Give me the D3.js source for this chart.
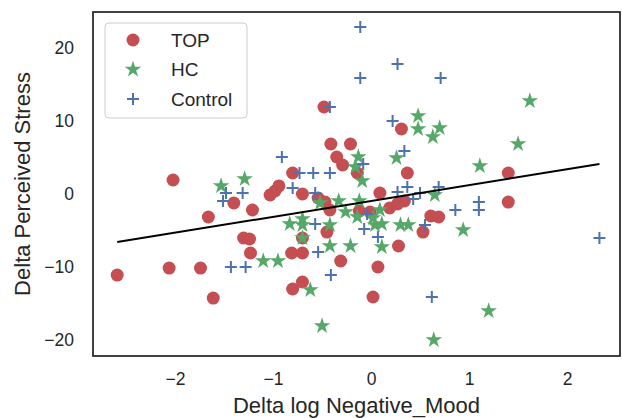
<!DOCTYPE html>
<html>
<head>
<meta charset="utf-8">
<script src="https://cdn.jsdelivr.net/npm/d3@7"></script>
<style>
  body { margin: 0; background: #fff; }
  text { font-family: "Liberation Sans", Arial, sans-serif; fill: #262626; }
</style>
</head>
<body>
<svg id="chart" width="622" height="418"></svg>
<script>
// values
const topX = [-2.02,-1.40,-1.21,-1.66,-1.03,-1.30,-1.24,-1.23,-2.59,-2.06,-1.74,-1.61,-0.80,-0.98,-0.94,-0.70,-0.54,-0.47,-0.42,-0.48,-0.41,-0.21,-0.35,-0.29,-0.14,0.31,0.37,0.09,-0.12,-0.01,0.19,0.27,0.34,-0.45,-0.70,-0.81,-0.70,-0.31,0.07,-0.80,-0.70,0.02,0.28,0.53,0.61,0.69,1.40,1.40];
const topY = [1.92,-1.23,-2.19,-3.15,-0.14,-6.03,-6.16,-8.08,-11.10,-10.14,-10.14,-14.25,2.88,0.41,1.10,0.00,-0.55,-1.10,-2.19,11.92,6.85,6.85,5.07,3.97,2.88,8.90,2.88,0.14,-2.33,-2.47,-1.92,-1.37,-0.96,-5.21,-6.03,-8.08,-8.08,-9.18,-10.00,-13.01,-12.05,-14.11,-7.12,-5.21,-3.01,-3.15,-1.10,2.88];

const hcX = [-1.53,-1.29,-1.10,-0.95,-0.52,-0.33,-0.12,-0.83,-0.70,-0.70,-0.70,-0.42,-0.26,-0.14,0.02,0.09,0.04,0.11,0.30,0.38,-0.42,-0.21,0.11,-0.62,-0.50,0.65,0.94,1.20,0.64,1.50,1.11,1.62,0.70,0.63,0.48,0.48,0.26,-0.13,-0.16,-0.09];
const hcY = [1.10,2.05,-9.18,-9.18,-1.23,-0.96,-0.96,-4.11,-3.42,-4.25,-6.03,-4.25,-2.47,-3.15,-3.29,-2.19,-4.25,-4.11,-4.25,-4.25,-7.12,-7.12,-7.26,-13.15,-18.08,-0.14,-4.93,-16.03,-20.00,6.85,3.84,12.74,9.04,7.81,10.68,8.90,4.93,5.07,3.70,1.78];

const ctrlX = [-0.11,0.27,-0.11,0.71,-0.42,0.22,0.34,-0.08,-0.91,-0.73,-0.59,-0.42,-1.48,-1.31,-1.51,-0.80,-0.57,-0.57,-0.04,-0.07,0.07,0.27,0.37,0.43,0.50,0.55,-0.54,-0.41,-1.43,-1.28,0.62,0.69,0.86,1.10,1.10,2.33];
const ctrlY = [22.88,17.81,15.89,15.89,11.92,10.00,5.89,4.11,5.07,2.88,2.88,2.88,0.14,0.14,-0.96,0.82,0.14,-4.11,-2.74,-4.79,-5.89,0.27,0.96,-0.68,0.14,-4.25,-7.95,-11.10,-10.00,-10.00,-14.11,0.96,-2.19,-1.10,-2.19,-6.03];

const fitX = [-2.59, 2.33];
const fitY = [-6.58, 4.11];

const xTicks = [-2, -1, 0, 1, 2];
const yTicks = [-20, -10, 0, 10, 20];
const groups = ["TOP", "HC", "Control"];
const colors = {TOP: "#c44e52", HC: "#55a868", Control: "#4c72b0"};

const svg = d3.select("#chart");
const mLeft = 93, mRight = 620, mTop = 12, mBottom = 356;

const x = d3.scaleLinear().domain([-2.837, 2.54]).range([mLeft, mRight]);
const y = d3.scaleLinear().domain([-22.19, 24.93]).range([mBottom, mTop]);

const starPath = d3.symbol().type(d3.symbolStar).size(85)();
const plusPath = "M-6,0H6M0,-6V6";

function drawGroup(xs, ys, name) {
  const pts = xs.map((v, i) => [v, ys[i]]);
  const g = svg.append("g");
  if (name === "TOP") {
    g.selectAll("circle").data(pts).enter().append("circle")
      .attr("cx", d => x(d[0])).attr("cy", d => y(d[1]))
      .attr("r", 6.5).attr("fill", colors.TOP);
  } else if (name === "HC") {
    g.selectAll("path").data(pts).enter().append("path")
      .attr("d", starPath)
      .attr("transform", d => `translate(${x(d[0])},${y(d[1])})`)
      .attr("fill", colors.HC);
  } else {
    g.selectAll("path").data(pts).enter().append("path")
      .attr("d", plusPath)
      .attr("transform", d => `translate(${x(d[0])},${y(d[1])})`)
      .attr("fill", "none").attr("stroke", colors.Control).attr("stroke-width", 2);
  }
}

drawGroup(topX, topY, "TOP");
drawGroup(hcX, hcY, "HC");
drawGroup(ctrlX, ctrlY, "Control");

svg.append("path")
  .attr("d", d3.line().x(d => x(d[0])).y(d => y(d[1]))(fitX.map((v, i) => [v, fitY[i]])))
  .attr("stroke", "#000").attr("stroke-width", 2).attr("fill", "none");

// axes, no tick marks (seaborn white)
const minus = d => d3.format("")(d).replace("-", "\u2212");
const xaxis = d3.axisBottom(x).tickValues(xTicks).tickSize(0).tickPadding(17).tickFormat(minus);
svg.append("g").attr("transform", `translate(0,${mBottom})`).call(xaxis)
  .call(g => g.select(".domain").remove())
  .selectAll("text").style("font-size", "17.5px").attr("fill", "#262626");

const yaxis = d3.axisLeft(y).tickValues(yTicks).tickSize(0).tickPadding(19).tickFormat(minus);
svg.append("g").attr("transform", `translate(${mLeft},0)`).call(yaxis)
  .call(g => g.select(".domain").remove())
  .selectAll("text").style("font-size", "17.5px").attr("fill", "#262626");

svg.append("rect")
  .attr("x", mLeft).attr("y", mTop).attr("width", mRight - mLeft).attr("height", mBottom - mTop)
  .attr("fill", "none").attr("stroke", "#262626").attr("stroke-width", 1.75);

svg.append("text")
  .attr("x", (mLeft + mRight) / 2).attr("y", 413)
  .attr("text-anchor", "middle").style("font-size", "22px")
  .text("Delta log Negative_Mood");

svg.append("text")
  .attr("transform", `translate(30,${(mTop + mBottom) / 2}) rotate(-90)`)
  .attr("text-anchor", "middle").style("font-size", "22px")
  .text("Delta Perceived Stress");

// legend
const lg = svg.append("g").attr("transform", "translate(105,23)");
lg.append("rect").attr("width", 142).attr("height", 95).attr("rx", 4)
  .attr("fill", "#fff").attr("fill-opacity", 0.8).attr("stroke", "#cccccc");
groups.forEach((name, i) => {
  const cy = 17 + i * 29.5;
  if (name === "TOP") {
    lg.append("circle").attr("cx", 28).attr("cy", cy).attr("r", 6.5).attr("fill", colors.TOP);
  } else if (name === "HC") {
    lg.append("path").attr("d", starPath).attr("transform", `translate(28,${cy})`).attr("fill", colors.HC);
  } else {
    lg.append("path").attr("d", plusPath).attr("transform", `translate(28,${cy})`)
      .attr("fill", "none").attr("stroke", colors.Control).attr("stroke-width", 2);
  }
  lg.append("text").attr("x", 66).attr("y", cy + 6.5).style("font-size", "19px").text(name);
});
</script>
</body>
</html>
